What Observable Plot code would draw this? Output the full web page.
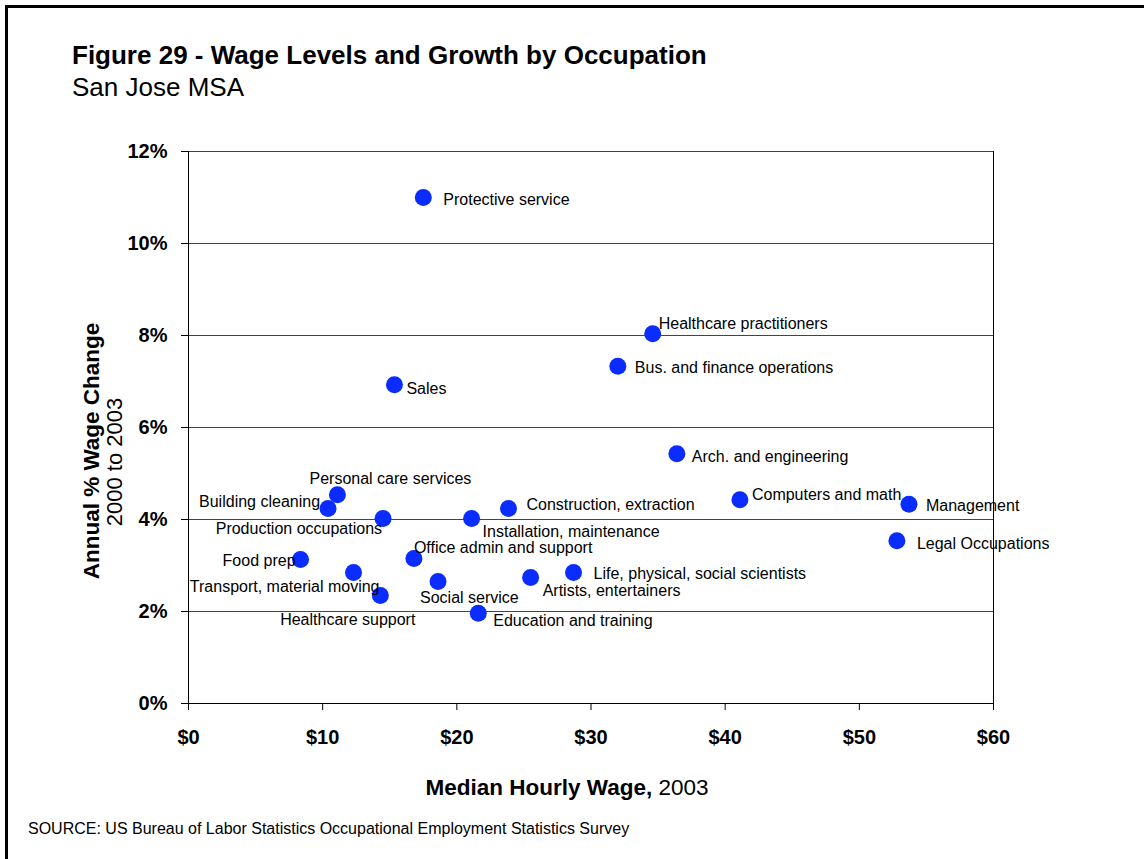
<!DOCTYPE html>
<html>
<head>
<meta charset="utf-8">
<script src="https://cdn.jsdelivr.net/npm/d3@7"></script>
<script src="https://cdn.jsdelivr.net/npm/@observablehq/plot@0.6"></script>
<style>
  html, body { margin: 0; padding: 0; background: #fff; }
  #wrap { position: relative; width: 1144px; height: 859px; overflow: hidden; font-family: "Liberation Sans", Arial, sans-serif; color: #000; }
  #frame { position: absolute; left: 5px; top: 5px; width: 1200px; height: 900px; border-top: 3px solid #000; border-left: 3px solid #000; }
  .t { position: absolute; white-space: nowrap; line-height: 1; }
  #chart { position: absolute; left: 0; top: 0; }
</style>
</head>
<body>
<div id="wrap">
  <div id="frame"></div>
  <div id="chart"></div>
  <div class="t" id="title" style="left:72px; top:42px; font-size:26px; font-weight:bold;">Figure 29 - Wage Levels and Growth by Occupation</div>
  <div class="t" id="subtitle" style="left:72px; top:74px; font-size:26px;">San Jose MSA</div>
  <div class="t" id="ytitle1" style="left:92px; top:451px; font-size:22.5px; font-weight:bold; transform: translate(-50%,-50%) rotate(-90deg);">Annual % Wage Change</div>
  <div class="t" id="ytitle2" style="left:115px; top:462px; font-size:22px; transform: translate(-50%,-50%) rotate(-90deg);">2000 to 2003</div>
  <div class="t" id="xtitle" style="left:567px; top:777px; font-size:22.5px; transform: translateX(-50%);"><b>Median Hourly Wage,</b> 2003</div>
  <div class="t" id="source" style="left:28px; top:821px; font-size:16px;">SOURCE: US Bureau of Labor Statistics Occupational Employment Statistics Survey</div>
</div>
<script>
// ---- data ----
const occupations = [
  "Protective service", "Healthcare practitioners", "Bus. and finance operations", "Sales",
  "Arch. and engineering", "Computers and math", "Management", "Legal Occupations",
  "Personal care services", "Building cleaning", "Production occupations", "Installation, maintenance",
  "Construction, extraction", "Food prep", "Office admin and support", "Transport, material moving",
  "Social service", "Healthcare support", "Education and training", "Artists, entertainers",
  "Life, physical, social scientists"
];
const medianWage = [17.5, 34.6, 32.0, 15.35, 36.4, 41.1, 53.7, 52.8, 11.1, 10.4, 14.5, 21.1, 23.85, 8.35, 16.8, 12.3, 18.6, 14.3, 21.6, 25.5, 28.7];
const wageGrowth = [11.0, 8.04, 7.33, 6.93, 5.43, 4.43, 4.33, 3.54, 4.54, 4.24, 4.02, 4.02, 4.24, 3.13, 3.15, 2.85, 2.65, 2.35, 1.96, 2.74, 2.85];
const xTicks = [0, 10, 20, 30, 40, 50, 60];
const yTicks = [0, 2, 4, 6, 8, 10, 12];

// ---- label placement (layout only) ----
const labelDx =     [20,   6,  17, 12, 15, 12, 17, 20, 53, -8, -1, 11, 18, -5,  0, 26, -18, 35, 15, 12, 20];
const labelDy =     [ 2, -10,   2,  4,  3, -5,  2,  3, -16, -7, 10, 13, -4,  1, -11, 14, 16, 24,  8, 13,  1];
const labelAnchor = ["start","start","start","start","start","start","start","start","middle","end","end","start","start","end","start","end","start","end","start","start","start"];

const data = occupations.map((name, i) => ({name, wage: medianWage[i], growth: wageGrowth[i], i}));

const font = "'Liberation Sans', Arial, sans-serif";

const chart = Plot.plot({
  width: 1144,
  height: 859,
  marginLeft: 188,
  marginRight: 151,
  marginTop: 151,
  marginBottom: 156,
  style: {fontFamily: font, background: "transparent", color: "#000", overflow: "visible"},
  x: {domain: [0, 60], label: null},
  y: {domain: [0, 12], label: null},
  marks: [
    Plot.gridY(yTicks.filter(d => d > 0), {stroke: "#444", strokeOpacity: 1, strokeWidth: 1}),
    Plot.ruleX([60], {stroke: "#000", strokeWidth: 1}),
    Plot.ruleX([0], {stroke: "#000", strokeWidth: 1}),
    Plot.ruleY([0], {stroke: "#000", strokeWidth: 1}),
    Plot.axisX({ticks: xTicks, tickFormat: d => "$" + d, tickSize: 7, tickPadding: 19, fontSize: 20, fontWeight: "bold", label: null, stroke: "#000"}),
    Plot.axisY({ticks: yTicks, tickFormat: d => d + "%", tickSize: 7, tickPadding: 14, fontSize: 20, fontWeight: "bold", label: null, stroke: "#000"}),
    Plot.dot(data, {x: "wage", y: "growth", r: 8.5, fill: "#0a2cff", stroke: "none"}),
    ...data.map(d => Plot.text([d], {
      x: "wage", y: "growth", text: "name",
      dx: labelDx[d.i], dy: labelDy[d.i], textAnchor: labelAnchor[d.i],
      fontSize: 16, fill: "#000"
    }))
  ]
});
document.getElementById("chart").appendChild(chart);
</script>
</body>
</html>
